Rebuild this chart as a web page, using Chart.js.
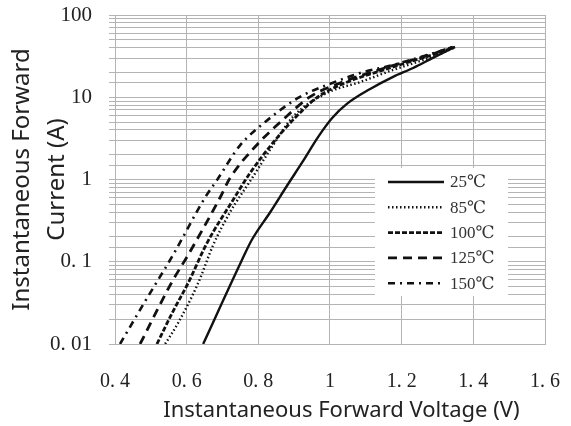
<!DOCTYPE html>
<html>
<head>
<meta charset="utf-8">
<script src="https://cdn.jsdelivr.net/npm/chart.js@4"></script>
<style>
  html, body { margin: 0; padding: 0; background: #fff; }
  canvas { display: block; }
</style>
</head>
<body>
<canvas id="ivChart" width="571" height="426"></canvas>
<script>
// forward voltage (V) / forward current (A) per junction temperature
const temps = ["25\u2103", "85\u2103", "100\u2103", "125\u2103", "150\u2103"];

const v25 = [0.646, 0.752, 0.782, 0.833, 0.88, 0.925, 0.967, 1.006, 1.047, 1.112, 1.176, 1.232, 1.287, 1.343];
const i25 = [0.01, 0.1, 0.185, 0.4, 0.84, 1.68, 3.3, 5.6, 8.3, 12.6, 17.7, 22.7, 30.1, 39.7];

const v85 = [0.54, 0.576, 0.632, 0.674, 0.721, 0.785, 0.83, 0.897, 0.992, 1.084, 1.176, 1.299, 1.349];
const i85 = [0.01, 0.018, 0.055, 0.16, 0.4, 1.08, 2.2, 5.8, 11.3, 15.3, 21.5, 32.5, 40.5];

const v100 = [0.517, 0.562, 0.604, 0.657, 0.729, 0.777, 0.841, 0.902, 0.966, 1.042, 1.167, 1.293, 1.349];
const i100 = [0.01, 0.025, 0.055, 0.17, 0.56, 1.2, 2.8, 5.6, 10.1, 14.9, 22.7, 33.6, 40.8];

const v125 = [0.47, 0.559, 0.604, 0.693, 0.721, 0.791, 0.874, 0.944, 1.028, 1.153, 1.287, 1.343];
const i125 = [0.01, 0.057, 0.121, 0.6, 1.04, 2.5, 5.6, 10.1, 14.9, 22.7, 33.6, 40.8];

const v150 = [0.414, 0.484, 0.562, 0.651, 0.685, 0.749, 0.819, 0.916, 0.992, 1.084, 1.176, 1.271, 1.343];
const i150 = [0.01, 0.033, 0.121, 0.6, 0.99, 2.6, 5.0, 10.1, 14.1, 19.7, 24.7, 32.6, 40.8];

const xTickValues = [0.4, 0.6, 0.8, 1.0, 1.2, 1.4, 1.6];
const xTickLabels = ["0. 4", "0. 6", "0. 8", "1", "1. 2", "1. 4", "1. 6"];
const yTickValues = [0.01, 0.1, 1, 10, 100];
const yTickLabels = ["0. 01", "0. 1", "1", "10", "100"];

const ink = "#111";
const gridColor = "#b4b4b4";
const serif = "'Liberation Serif', 'DejaVu Serif', serif";
const sans = "'Noto Sans', 'DejaVu Sans', sans-serif";

const toPoints = (vs, is) => vs.map((v, k) => ({ x: v, y: is[k] }));

function findLabel(values, labels, value) {
  const k = values.findIndex((t) => Math.abs(t - value) < 1e-6 * Math.max(1, t));
  return k >= 0 ? labels[k] : "";
}

const series = [
  { data: toPoints(v25, i25), dash: [], width: 2.4 },
  { data: toPoints(v85, i85), dash: [1.5, 2.5], width: 2.4 },
  { data: toPoints(v100, i100), dash: [5, 2], width: 2.8 },
  { data: toPoints(v125, i125), dash: [9, 6], width: 2.8 },
  { data: toPoints(v150, i150), dash: [7, 5, 2, 5], width: 2.6 },
];

// legend box sits inside the plot, over the grid
const boxLegend = {
  id: "boxLegend",
  afterDatasetsDraw(chart) {
    const { ctx } = chart;
    const left = 375, top = 168, w = 133, h = 128;
    ctx.save();
    ctx.fillStyle = "#fff";
    ctx.fillRect(left, top, w, h);
    chart.data.datasets.forEach((ds, k) => {
      const y = 182 + k * 25.3;
      ctx.beginPath();
      ctx.setLineDash(ds.borderDash || []);
      ctx.lineWidth = ds.borderWidth;
      ctx.strokeStyle = ink;
      ctx.moveTo(388, y);
      ctx.lineTo(444, y);
      ctx.stroke();
      ctx.setLineDash([]);
      ctx.fillStyle = "#333";
      ctx.font = "17px " + serif;
      ctx.textBaseline = "middle";
      ctx.textAlign = "left";
      ctx.fillText(ds.label, 450, y + 1);
    });
    ctx.restore();
  },
};

new Chart(document.getElementById("ivChart"), {
  type: "line",
  data: {
    datasets: series.map((s, k) => ({
      label: temps[k],
      data: s.data,
      borderColor: ink,
      borderWidth: s.width,
      borderDash: s.dash,
      pointRadius: 0,
      cubicInterpolationMode: "monotone",
      fill: false,
    })),
  },
  options: {
    responsive: false,
    animation: false,
    devicePixelRatio: 1,
    layout: { padding: { top: 15, right: 26, left: 0, bottom: 0 } },
    plugins: { legend: { display: false }, tooltip: { enabled: false } },
    scales: {
      x: {
        type: "linear",
        min: 0.4,
        max: 1.6,
        ticks: {
          stepSize: 0.2,
          padding: 26,
          color: "#222",
          font: { family: serif, size: 20 },
          callback: (value) => findLabel(xTickValues, xTickLabels, value),
        },
        grid: { color: gridColor, lineWidth: 1, drawTicks: false },
        border: { color: gridColor },
        title: {
          display: true,
          text: "    Instantaneous Forward Voltage (V)",
          color: "#222",
          font: { family: sans, size: 22, lineHeight: 1.1 },
          padding: { top: 0, bottom: 3 },
        },
        afterFit: (scale) => {
          scale.height = 82;
          scale.paddingLeft = 0;
          scale.paddingRight = 0;
        },
      },
      y: {
        type: "logarithmic",
        min: 0.01,
        max: 100,
        ticks: {
          autoSkip: false,
          padding: 17,
          color: "#222",
          font: { family: serif, size: 21 },
          callback: (value) => findLabel(yTickValues, yTickLabels, value),
        },
        grid: { color: gridColor, lineWidth: 1, tickLength: 6 },
        border: { color: gridColor },
        title: {
          display: true,
          text: ["Instantaneous Forward", "Current (A)"],
          color: "#222",
          font: { family: sans, size: 24, lineHeight: 1.45 },
          padding: { top: 5, bottom: 0 },
        },
        afterFit: (scale) => {
          scale.width = 115;
          scale.paddingTop = 0;
          scale.paddingBottom = 0;
        },
      },
    },
  },
  plugins: [boxLegend],
});
</script>
</body>
</html>
